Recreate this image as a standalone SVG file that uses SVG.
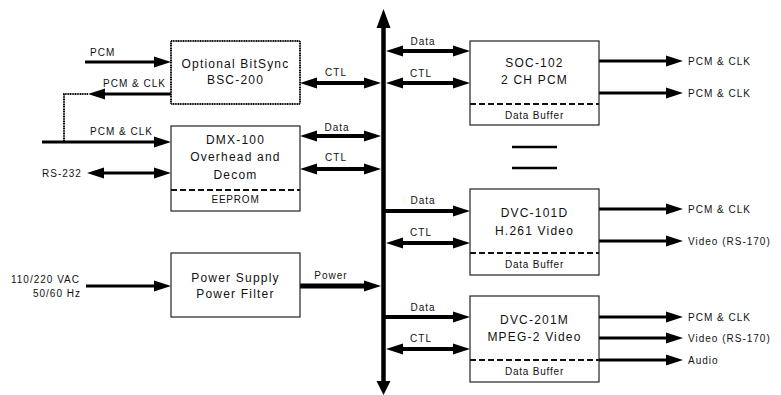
<svg xmlns="http://www.w3.org/2000/svg" width="781" height="395" viewBox="0 0 781 395">
<defs>
<style>
text{font-family:"Liberation Sans",Arial,sans-serif;fill:#111}
.t12{font-size:12px;letter-spacing:1.2px;text-anchor:middle}
.t10{font-size:10px;letter-spacing:1px}
.tb{font-size:10px;letter-spacing:0.8px;text-anchor:middle}
.mid{text-anchor:middle}
.end{text-anchor:end}
.box{fill:#fff;stroke:#222;stroke-width:1.2}
.dotbox{fill:#fff;stroke:#111;stroke-width:2;stroke-dasharray:1.2 0.5}
.dash{stroke:#111;stroke-width:1.8;stroke-dasharray:6 3;fill:none}
.c4{stroke:#000;stroke-width:4;fill:none}
.c3{stroke:#000;stroke-width:3;fill:none}
.c5{stroke:#000;stroke-width:5;fill:none}
.dot{stroke:#111;stroke-width:2;stroke-dasharray:1.2 0.5;fill:none}
</style>
<marker id="ah" markerUnits="userSpaceOnUse" markerWidth="17" markerHeight="12" viewBox="0 0 17 12" refX="4" refY="6" orient="auto-start-reverse">
<path d="M0,0.5 L17,6 L0,11.5 z" fill="#000"/>
</marker>
</defs>
<rect width="781" height="395" fill="#fff"/>

<g id="connectors">
<!-- bus -->
<line x1="383.5" y1="26" x2="383.5" y2="383" stroke="#000" stroke-width="4.5"/>
<polygon points="383.5,9 376.5,28 390.5,28" fill="#000"/>
<polygon points="376.5,381 390.5,381 383.5,395" fill="#000"/>
<!-- left inputs -->
<line class="c3" x1="85" y1="62" x2="158" y2="62" marker-end="url(#ah)"/>
<line class="c3" x1="171" y1="94" x2="101" y2="94" marker-end="url(#ah)"/>
<polyline class="dot" points="88,94 64,94 64,142"/>
<line class="c3" x1="42" y1="142" x2="158" y2="142" marker-end="url(#ah)"/>
<line class="c3" x1="100" y1="173" x2="158" y2="173" marker-start="url(#ah)" marker-end="url(#ah)"/>
<line class="c3" x1="86" y1="286" x2="158" y2="286" marker-end="url(#ah)"/>
<!-- left to bus -->
<line class="c4" x1="313" y1="83" x2="368" y2="83" marker-start="url(#ah)" marker-end="url(#ah)"/>
<line class="c4" x1="313" y1="136" x2="368" y2="136" marker-start="url(#ah)" marker-end="url(#ah)"/>
<line class="c4" x1="313" y1="169" x2="368" y2="169" marker-start="url(#ah)" marker-end="url(#ah)"/>
<line class="c5" x1="300" y1="286" x2="368" y2="286" marker-end="url(#ah)"/>
<!-- bus to right -->
<line class="c4" x1="399" y1="51" x2="457" y2="51" marker-start="url(#ah)" marker-end="url(#ah)"/>
<line class="c4" x1="399" y1="83" x2="457" y2="83" marker-start="url(#ah)" marker-end="url(#ah)"/>
<line class="c4" x1="385" y1="211" x2="457" y2="211" marker-end="url(#ah)"/>
<line class="c4" x1="399" y1="243" x2="457" y2="243" marker-start="url(#ah)" marker-end="url(#ah)"/>
<line class="c4" x1="385" y1="317" x2="457" y2="317" marker-end="url(#ah)"/>
<line class="c4" x1="399" y1="349" x2="457" y2="349" marker-start="url(#ah)" marker-end="url(#ah)"/>
<!-- right outputs -->
<line class="c3" x1="599" y1="61" x2="670" y2="61" marker-end="url(#ah)"/>
<line class="c3" x1="599" y1="93" x2="670" y2="93" marker-end="url(#ah)"/>
<line class="c3" x1="599" y1="209" x2="670" y2="209" marker-end="url(#ah)"/>
<line class="c3" x1="599" y1="241" x2="670" y2="241" marker-end="url(#ah)"/>
<line class="c3" x1="599" y1="317" x2="670" y2="317" marker-end="url(#ah)"/>
<line class="c3" x1="599" y1="338" x2="670" y2="338" marker-end="url(#ah)"/>
<line class="c3" x1="599" y1="360" x2="670" y2="360" marker-end="url(#ah)"/>
<!-- ellipsis bars -->
<line x1="512" y1="147" x2="557" y2="147" stroke="#000" stroke-width="2.5"/>
<line x1="512" y1="168" x2="557" y2="168" stroke="#000" stroke-width="2.5"/>
</g>

<g id="labels">
<text class="t10" x="90" y="56">PCM</text>
<text class="t10" x="103" y="87">PCM &amp; CLK</text>
<text class="t10" x="90" y="135">PCM &amp; CLK</text>
<text class="t10" x="42" y="177">RS-232</text>
<text class="t10 end" x="80" y="283">110/220 VAC</text>
<text class="t10 end" x="81" y="297">50/60 Hz</text>
<text class="t10 mid" x="336" y="76">CTL</text>
<text class="t10 mid" x="337" y="131">Data</text>
<text class="t10 mid" x="336" y="161">CTL</text>
<text class="t10 mid" x="331" y="279">Power</text>
<text class="t10 mid" x="423" y="45">Data</text>
<text class="t10 mid" x="421" y="77">CTL</text>
<text class="t10 mid" x="423" y="204">Data</text>
<text class="t10 mid" x="421" y="236">CTL</text>
<text class="t10 mid" x="423" y="311">Data</text>
<text class="t10 mid" x="421" y="342">CTL</text>
<text class="t10" x="688" y="65">PCM &amp; CLK</text>
<text class="t10" x="688" y="97">PCM &amp; CLK</text>
<text class="t10" x="688" y="213">PCM &amp; CLK</text>
<text class="t10" x="688" y="245">Video (RS-170)</text>
<text class="t10" x="688" y="321">PCM &amp; CLK</text>
<text class="t10" x="688" y="342">Video (RS-170)</text>
<text class="t10" x="688" y="364">Audio</text>
</g>

<g id="bitsync">
<rect class="dotbox" x="171" y="41" width="129" height="63"/>
<text class="t12" x="235.5" y="68">Optional BitSync</text>
<text class="t12" x="235.5" y="84">BSC-200</text>
</g>

<g id="dmx100">
<rect class="box" x="171" y="126" width="129" height="85"/>
<line class="dash" x1="171" y1="190" x2="300" y2="190"/>
<text class="t12" x="235.5" y="144">DMX-100</text>
<text class="t12" x="235.5" y="161">Overhead and</text>
<text class="t12" x="235.5" y="179">Decom</text>
<text class="tb" x="235.5" y="202.5">EEPROM</text>
</g>

<g id="power">
<rect class="box" x="171" y="253" width="129" height="64"/>
<text class="t12" x="235.5" y="282">Power Supply</text>
<text class="t12" x="235.5" y="298">Power Filter</text>
</g>

<g id="soc102">
<rect class="box" x="470" y="41" width="129" height="84"/>
<line class="dash" x1="470" y1="104" x2="599" y2="104"/>
<text class="t12" x="534.5" y="67">SOC-102</text>
<text class="t12" x="534.5" y="84">2 CH PCM</text>
<text class="tb" x="534.5" y="118.5">Data Buffer</text>
</g>

<g id="dvc101d">
<rect class="box" x="470" y="189" width="129" height="86"/>
<line class="dash" x1="470" y1="253" x2="599" y2="253"/>
<text class="t12" x="534.5" y="217">DVC-101D</text>
<text class="t12" x="534.5" y="235">H.261 Video</text>
<text class="tb" x="534.5" y="267.5">Data Buffer</text>
</g>

<g id="dvc201m">
<rect class="box" x="470" y="296" width="129" height="86"/>
<line class="dash" x1="470" y1="360" x2="599" y2="360"/>
<text class="t12" x="534.5" y="324">DVC-201M</text>
<text class="t12" x="534.5" y="341">MPEG-2 Video</text>
<text class="tb" x="534.5" y="374.5">Data Buffer</text>
</g>
</svg>
